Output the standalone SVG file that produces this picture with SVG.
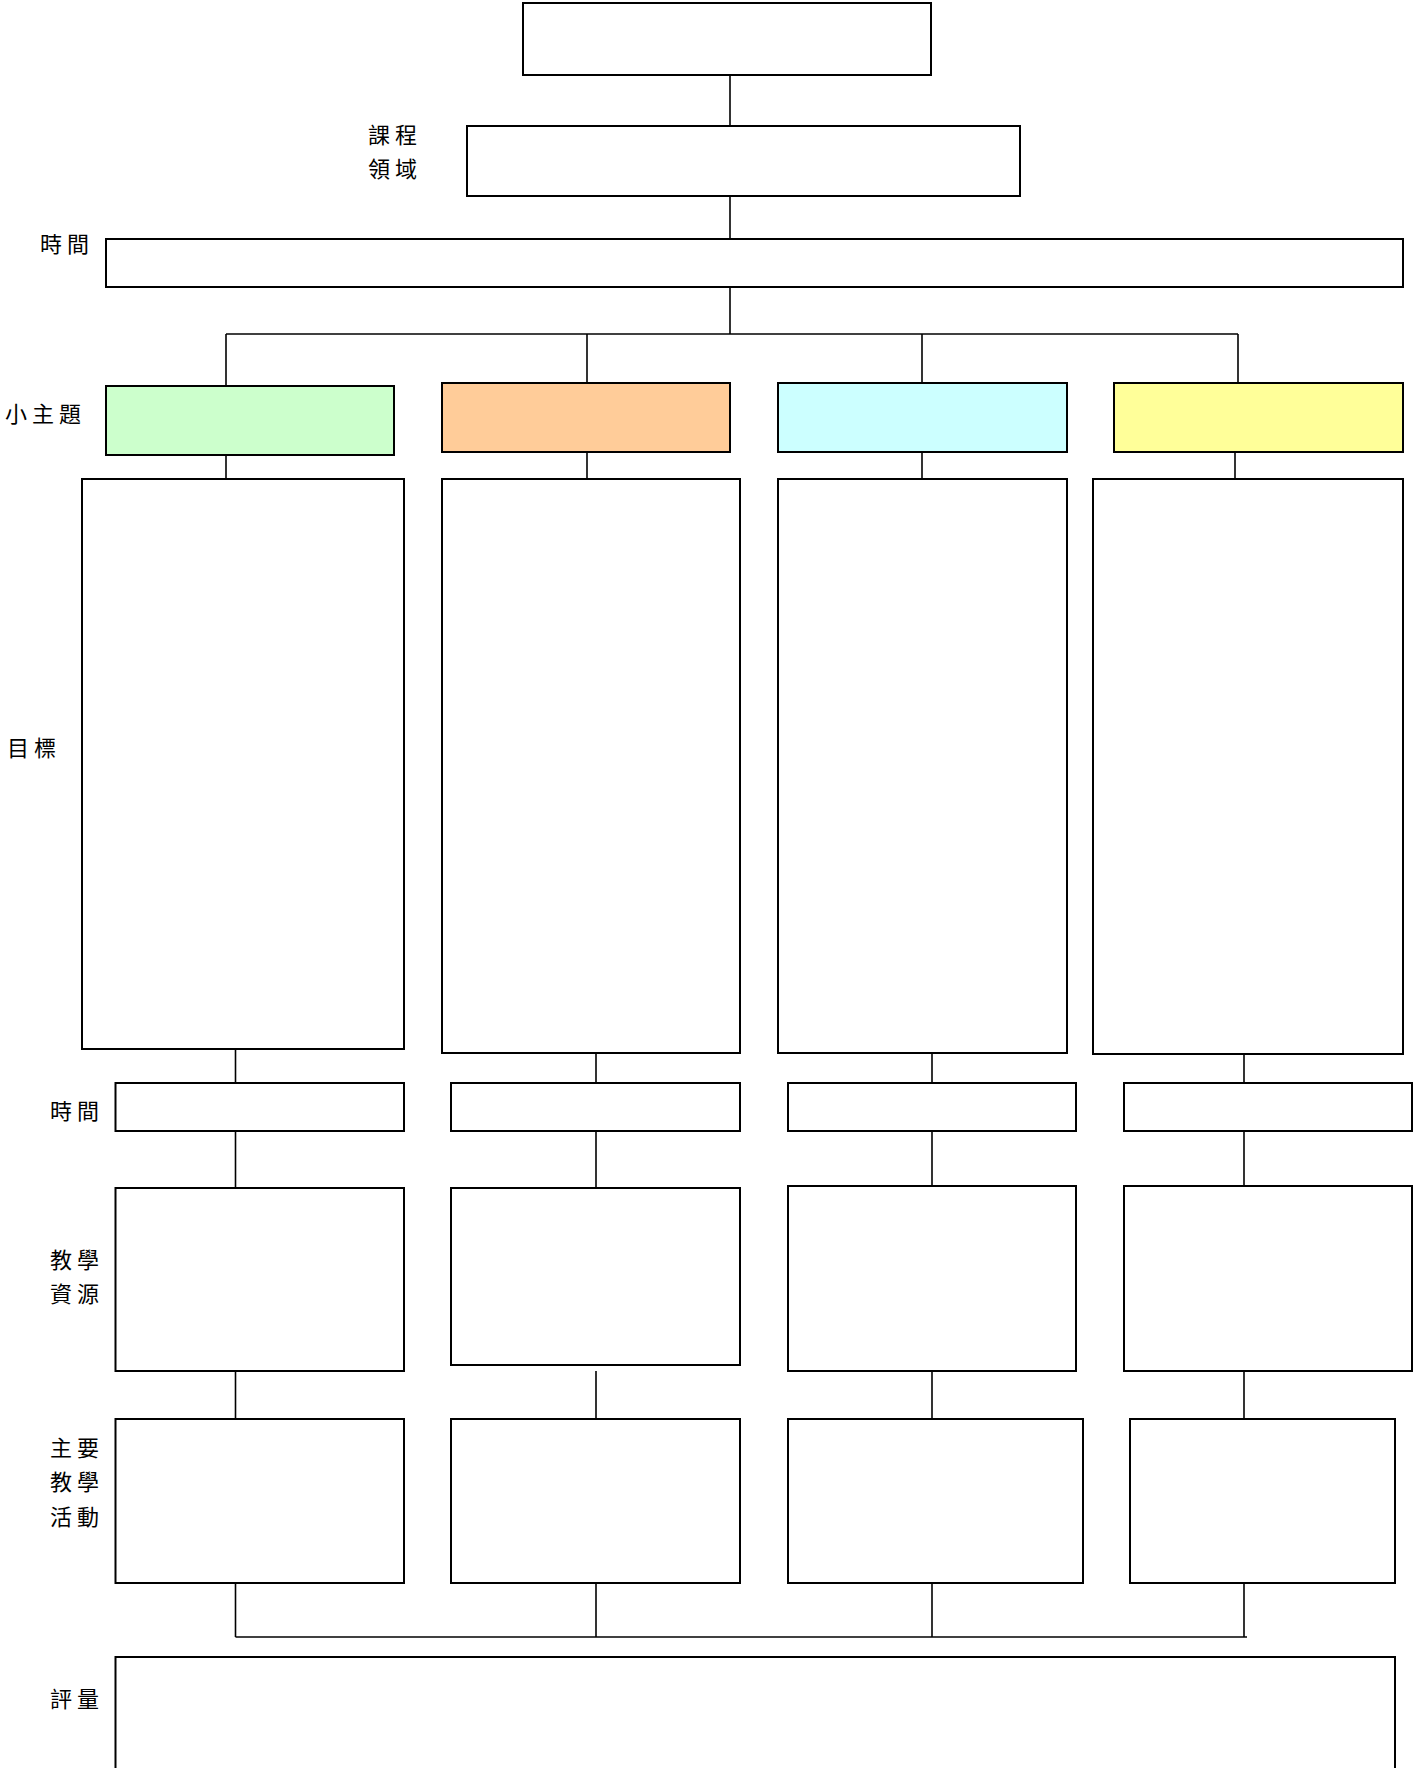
<svg xmlns="http://www.w3.org/2000/svg" width="1415" height="1768" viewBox="0 0 1415 1768">
<style>
.box{fill:#fff;stroke:#000;stroke-width:2}
.con line{stroke:#000;stroke-width:1.6}
.lbl{font-family:"Noto Sans CJK TC","Noto Sans CJK SC",sans-serif;font-size:22px;letter-spacing:5px;fill:#000}
</style>
<rect width="1415" height="1768" fill="#fff"/>
<g id="connectors" class="con">
<line x1="730" y1="75" x2="730" y2="126"/>
<line x1="730" y1="196" x2="730" y2="238"/>
<line x1="730" y1="287" x2="730" y2="334"/>
<line x1="226" y1="334" x2="1238" y2="334"/>
<line x1="226" y1="334" x2="226" y2="386"/>
<line x1="587" y1="334" x2="587" y2="383"/>
<line x1="922" y1="334" x2="922" y2="383"/>
<line x1="1238" y1="334" x2="1238" y2="383"/>
<line x1="226" y1="455" x2="226" y2="479"/>
<line x1="587" y1="452" x2="587" y2="479"/>
<line x1="922" y1="452" x2="922" y2="479"/>
<line x1="1235" y1="452" x2="1235" y2="479"/>
<line x1="235.5" y1="1049" x2="235.5" y2="1083"/>
<line x1="596" y1="1053" x2="596" y2="1083"/>
<line x1="932" y1="1053" x2="932" y2="1083"/>
<line x1="1244" y1="1054" x2="1244" y2="1083"/>
<line x1="235.5" y1="1131" x2="235.5" y2="1188"/>
<line x1="596" y1="1131" x2="596" y2="1188"/>
<line x1="932" y1="1131" x2="932" y2="1186"/>
<line x1="1244" y1="1131" x2="1244" y2="1186"/>
<line x1="235.5" y1="1371" x2="235.5" y2="1419"/>
<line x1="596" y1="1371" x2="596" y2="1419"/>
<line x1="932" y1="1371" x2="932" y2="1419"/>
<line x1="1244" y1="1371" x2="1244" y2="1419"/>
<line x1="235.5" y1="1583" x2="235.5" y2="1637"/>
<line x1="596" y1="1583" x2="596" y2="1637"/>
<line x1="932" y1="1583" x2="932" y2="1637"/>
<line x1="1244" y1="1583" x2="1244" y2="1637"/>
<line x1="235.5" y1="1637" x2="1247" y2="1637"/>
</g>
<g id="top"><rect class="box" x="523" y="3" width="408" height="72"/></g>
<g id="domain"><rect class="box" x="467" y="126" width="553" height="70"/>
<text class="lbl" x="368" y="143">課程</text><text class="lbl" x="368" y="177">領域</text></g>
<g id="time-main"><rect class="box" x="106" y="239" width="1297" height="48"/>
<text class="lbl" x="40" y="252">時間</text></g>
<g id="subtopics">
<text class="lbl" x="5" y="422">小主題</text>
<rect class="box" x="106" y="386" width="288" height="69" style="fill:#CCFFCC"/>
<rect class="box" x="442" y="383" width="288" height="69" style="fill:#FFCC99"/>
<rect class="box" x="778" y="383" width="289" height="69" style="fill:#CCFFFF"/>
<rect class="box" x="1114" y="383" width="289" height="69" style="fill:#FFFF99"/>
</g>
<g id="goals">
<text class="lbl" x="7" y="756">目標</text>
<rect class="box" x="82" y="479" width="322" height="570"/>
<rect class="box" x="442" y="479" width="298" height="574"/>
<rect class="box" x="778" y="479" width="289" height="574"/>
<rect class="box" x="1093" y="479" width="310" height="575"/>
</g>
<g id="times">
<text class="lbl" x="50" y="1119">時間</text>
<rect class="box" x="115.5" y="1083" width="288.5" height="48"/>
<rect class="box" x="451" y="1083" width="289" height="48"/>
<rect class="box" x="788" y="1083" width="288" height="48"/>
<rect class="box" x="1124" y="1083" width="288" height="48"/>
</g>
<g id="resources">
<text class="lbl" x="50" y="1268">教學</text><text class="lbl" x="50" y="1302">資源</text>
<rect class="box" x="115.5" y="1188" width="288.5" height="183"/>
<rect class="box" x="451" y="1188" width="289" height="177"/>
<rect class="box" x="788" y="1186" width="288" height="185"/>
<rect class="box" x="1124" y="1186" width="288" height="185"/>
</g>
<g id="activities">
<text class="lbl" x="50" y="1456">主要</text><text class="lbl" x="50" y="1490">教學</text><text class="lbl" x="50" y="1525">活動</text>
<rect class="box" x="115.5" y="1419" width="288.5" height="164"/>
<rect class="box" x="451" y="1419" width="289" height="164"/>
<rect class="box" x="788" y="1419" width="295" height="164"/>
<rect class="box" x="1130" y="1419" width="265" height="164"/>
</g>
<g id="evaluation">
<text class="lbl" x="50" y="1707">評量</text>
<rect class="box" x="115.5" y="1657" width="1279.5" height="140"/>
</g>
</svg>
